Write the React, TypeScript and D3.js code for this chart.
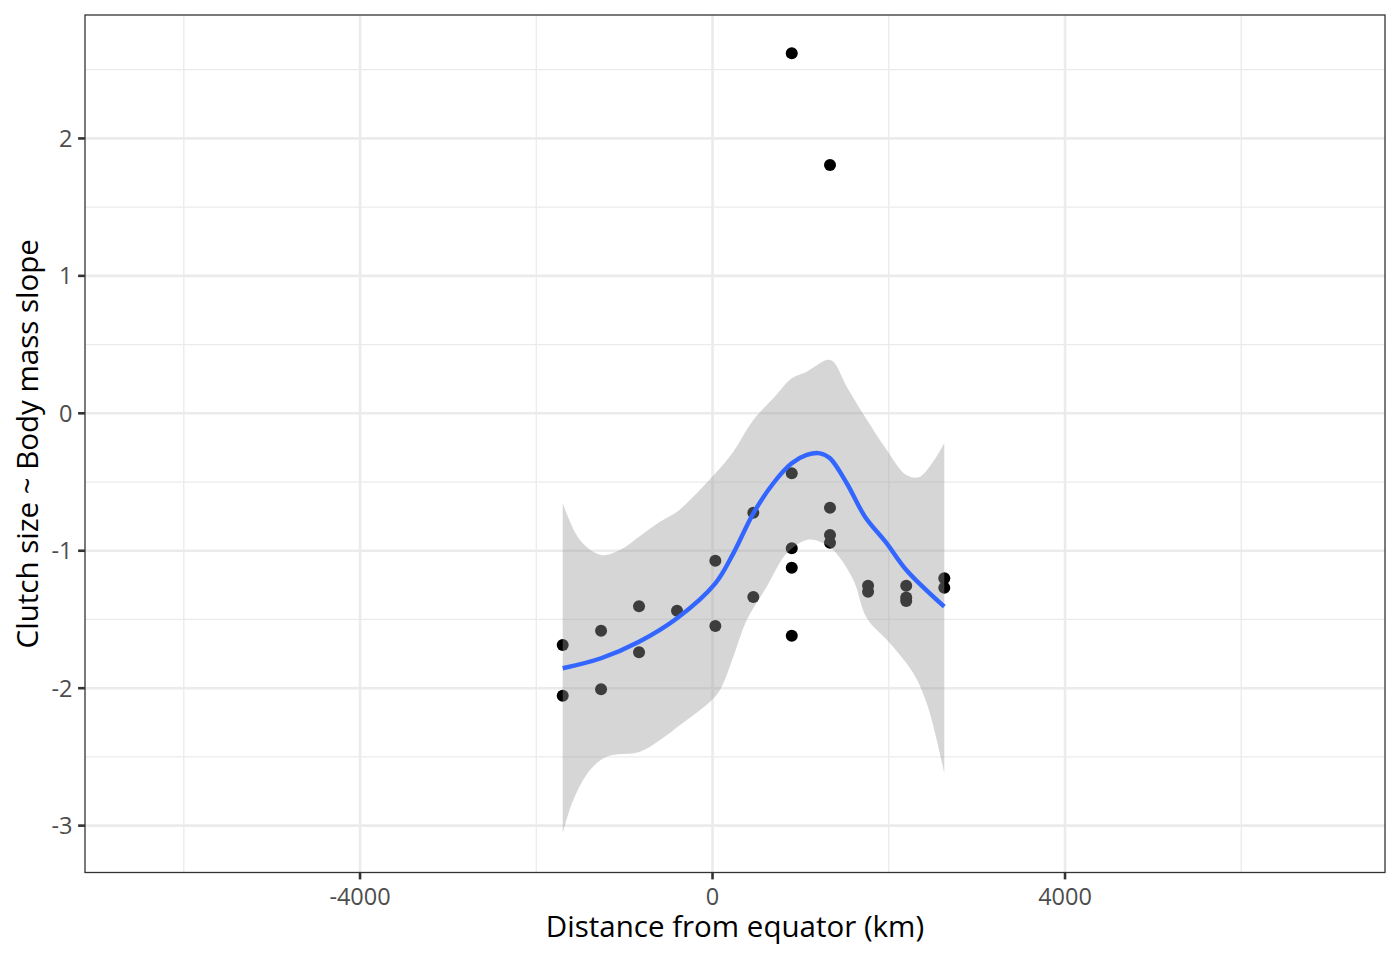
import React from "react";
import * as d3 from "d3";

const pointX = [-1700, -1700, -1265, -1265, -834, -834, -403, 32, 32, 463, 463, 899, 899, 899, 899, 899, 1333, 1333, 1333, 1333, 1765, 1765, 2198, 2198, 2198, 2630, 2630];
const pointY = [-1.686, -2.055, -1.582, -2.008, -1.404, -1.739, -1.436, -1.072, -1.548, -0.723, -1.337, 2.619, -0.437, -0.982, -1.123, -1.618, 1.806, -0.687, -0.885, -0.941, -1.254, -1.298, -1.254, -1.34, -1.366, -1.2, -1.269];

const smoothX = [-1700, -1265, -834, -403, 32, 236, 463, 690, 899, 1069, 1220, 1333, 1523, 1730, 1977, 2199, 2630];
const smoothY = [-1.855, -1.782, -1.662, -1.491, -1.237, -1.019, -0.728, -0.509, -0.364, -0.303, -0.291, -0.327, -0.509, -0.752, -0.946, -1.14, -1.407];

const upperX = [-1700, -1504, -1265, -1050, -834, -596, -403, -218, 32, 236, 463, 690, 899, 1069, 1296, 1371, 1523, 1730, 1977, 2199, 2355, 2630];
const upperY = [-0.655, -0.922, -1.031, -0.995, -0.898, -0.789, -0.716, -0.607, -0.437, -0.279, -0.049, 0.109, 0.255, 0.303, 0.388, 0.375, 0.194, -0.025, -0.267, -0.449, -0.461, -0.218];

const lowerX = [-1700, -1580, -1390, -1201, -823, -596, -369, -28, 85, 236, 388, 615, 842, 1069, 1220, 1371, 1598, 1750, 2014, 2279, 2431, 2544, 2630];
const lowerY = [-3.056, -2.813, -2.595, -2.498, -2.462, -2.377, -2.268, -2.098, -2.013, -1.771, -1.504, -1.262, -1.019, -0.922, -0.934, -0.995, -1.213, -1.489, -1.673, -1.892, -2.11, -2.377, -2.619];

const xDomain = [-7121, 7631];
const yDomain = [-3.341, 2.898];
const xMajor = [-4000, 0, 4000];
const xMinor = [-6000, -2000, 2000, 6000];
const yMajor = [-3, -2, -1, 0, 1, 2];
const yMinor = [-2.5, -1.5, -0.5, 0.5, 1.5, 2.5];

const L = 85, R = 1385, T = 15, B = 872.5;
const FONT = "'Open Sans', 'Noto Sans', sans-serif";

export default function App() {
  const x = d3.scaleLinear().domain(xDomain).range([L, R]);
  const y = d3.scaleLinear().domain(yDomain).range([B, T]);

  const curve = d3.curveCatmullRom.alpha(0.5);
  const lineGen = d3.line<[number, number]>().x((d) => x(d[0])).y((d) => y(d[1])).curve(curve);

  const upper: [number, number][] = upperX.map((v, i) => [v, upperY[i]]);
  const lower: [number, number][] = lowerX.map((v, i) => [v, lowerY[i]]).reverse() as [number, number][];
  const upperPath = lineGen(upper) || "";
  const lowerPath = (lineGen(lower) || "").replace(/^M/, "L");
  const ribbonPath = upperPath + lowerPath + "Z";

  const smooth: [number, number][] = smoothX.map((v, i) => [v, smoothY[i]]);
  const smoothPath = lineGen(smooth) || "";

  return (
    <svg width={1400} height={960} style={{ display: "block", position: "absolute", left: 0, top: 0 }}>
      <rect x={0} y={0} width={1400} height={960} fill="#fff" />
      <defs>
        <clipPath id="panel">
          <rect x={L} y={T} width={R - L} height={B - T} />
        </clipPath>
      </defs>
      <rect x={L} y={T} width={R - L} height={B - T} fill="#fff" />
      <g clipPath="url(#panel)">
        {xMinor.map((v) => (
          <line key={"xm" + v} x1={x(v)} x2={x(v)} y1={T} y2={B} stroke="#EBEBEB" strokeWidth={1.3} />
        ))}
        {yMinor.map((v) => (
          <line key={"ym" + v} x1={L} x2={R} y1={y(v)} y2={y(v)} stroke="#EBEBEB" strokeWidth={1.3} />
        ))}
        {xMajor.map((v) => (
          <line key={"xM" + v} x1={x(v)} x2={x(v)} y1={T} y2={B} stroke="#EBEBEB" strokeWidth={2.6} />
        ))}
        {yMajor.map((v) => (
          <line key={"yM" + v} x1={L} x2={R} y1={y(v)} y2={y(v)} stroke="#EBEBEB" strokeWidth={2.6} />
        ))}
        {pointX.map((v, i) => (
          <circle key={"p" + i} cx={x(v)} cy={y(pointY[i])} r={6} fill="#000" />
        ))}
        <path d={ribbonPath} fill="#999999" fillOpacity={0.4} stroke="none" />
        <path d={smoothPath} fill="none" stroke="#3366FF" strokeWidth={4.4} strokeLinejoin="round" />
      </g>
      <rect x={L} y={T} width={R - L} height={B - T} fill="none" stroke="#333333" strokeWidth={1.3} />
      {xMajor.map((v) => (
        <g key={"xt" + v}>
          <line x1={x(v)} x2={x(v)} y1={B} y2={B + 6.9} stroke="#333333" strokeWidth={2.6} />
          <text x={x(v)} y={904.5} textAnchor="middle" fontFamily={FONT} fontSize={23.5} fill="#4D4D4D">
            {String(v)}
          </text>
        </g>
      ))}
      {yMajor.map((v) => (
        <g key={"yt" + v}>
          <line x1={L - 6.9} x2={L} y1={y(v)} y2={y(v)} stroke="#333333" strokeWidth={2.6} />
          <text x={72.5} y={y(v)} dy="0.36em" textAnchor="end" fontFamily={FONT} fontSize={23.5} fill="#4D4D4D">
            {String(v)}
          </text>
        </g>
      ))}
      <text x={(L + R) / 2} y={937} textAnchor="middle" fontFamily={FONT} fontSize={29.5} fill="#000">
        Distance from equator (km)
      </text>
      <text transform={`translate(37.5, ${(T + B) / 2}) rotate(-90)`} textAnchor="middle" fontFamily={FONT} fontSize={29.5} fill="#000">
        Clutch size ~ Body mass slope
      </text>
    </svg>
  );
}
